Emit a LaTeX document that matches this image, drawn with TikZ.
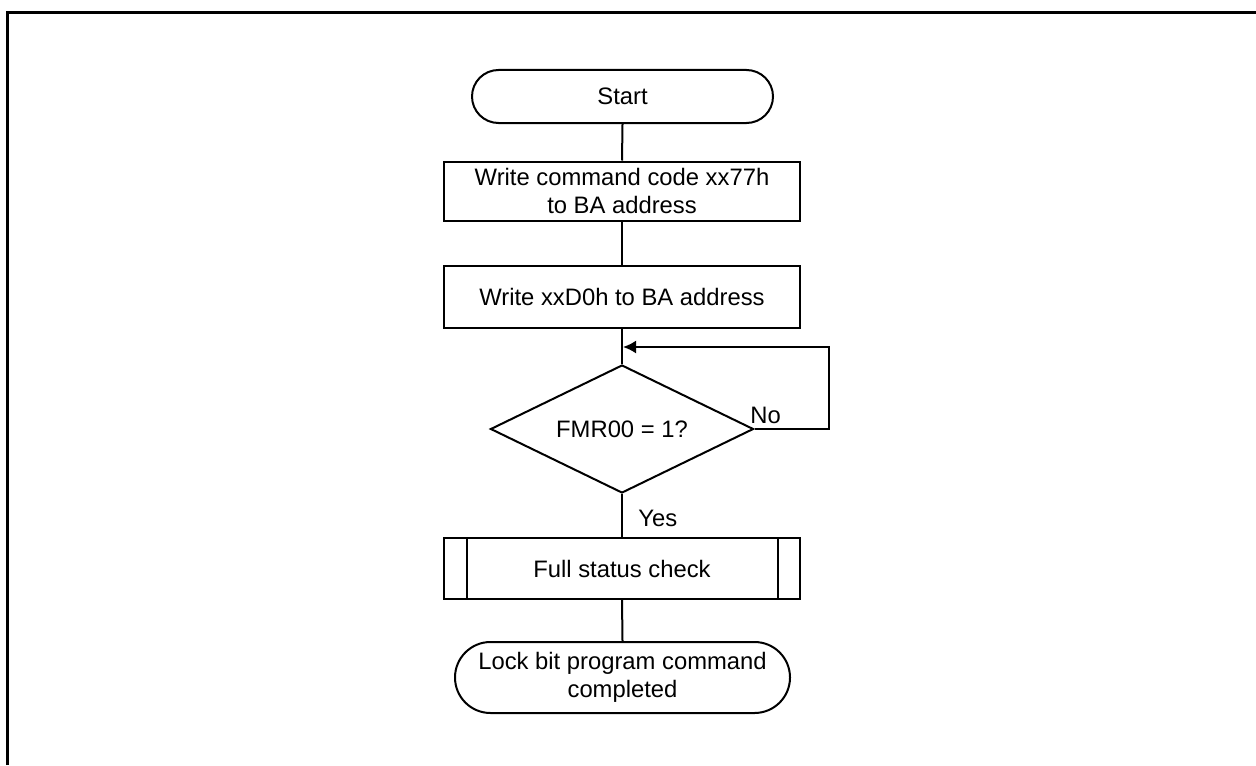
\documentclass[tikz,border=0pt]{standalone}
\usepackage{fontspec}
\setmainfont{Liberation Sans}
\usetikzlibrary{shapes.geometric,arrows.meta}
\begin{document}
\begin{tikzpicture}[x=0.5pt,y=-0.5pt,
  every node/.style={font=\fontsize{11.9}{13.7}\selectfont},
  line/.style={draw=black,line width=1pt},
  procbox/.style={line,rectangle,inner sep=0pt,minimum width=178pt,align=center},
  term/.style={line,rectangle,inner sep=0pt,align=center},
  decide/.style={line,diamond,aspect=2,inner sep=0pt,minimum width=131.5pt,minimum height=64pt},
  lbl/.style={inner sep=0pt}]
\useasboundingbox (0,0) rectangle (1256,765);
\draw[line width=1.5pt] (7.5,765) -- (7.5,12.5) -- (1256,12.5);

\node[term,minimum width=150.5pt,minimum height=26.5pt,rounded corners=13.25pt] (start) at (622.5,96.5) {Start};
\node[procbox,minimum height=29.5pt] (b1) at (622,191) {Write command code xx77h\\to BA address};
\node[procbox,minimum height=31pt] (b2) at (622,297) {Write xxD0h to BA address};
\node[decide] (d) at (622,429) {FMR00 = 1?};
\node[procbox,minimum height=30.5pt] (st) at (622,568.5) {Full status check};
\node[term,minimum width=167.5pt,minimum height=35.5pt,rounded corners=17.75pt] (end) at (622.5,677.5) {Lock bit program command\\completed};

\draw[line] ([xshift=12pt]st.north west) -- ([xshift=12pt]st.south west);
\draw[line] ([xshift=-11.5pt]st.north east) -- ([xshift=-11.5pt]st.south east);

\draw[line] (start.south) -- (b1.north);
\draw[line] (b1.south) -- (b2.north);
\draw[line] (b2.south) -- (d.north);
\draw[line] (d.south) -- (st.north);
\draw[line] (st.south) -- (end.north);

\coordinate (loopR) at (829,429);
\coordinate (join) at (623,347);
\draw[line,-{Latex[length=6.5pt,width=6.5pt]}] (d.east) -- (loopR) |- (join);

\node[lbl,anchor=base west] (no) at (750,423) {No};
\node[lbl,anchor=base west] (yes) at (638,526) {Yes};
\end{tikzpicture}
\end{document}
